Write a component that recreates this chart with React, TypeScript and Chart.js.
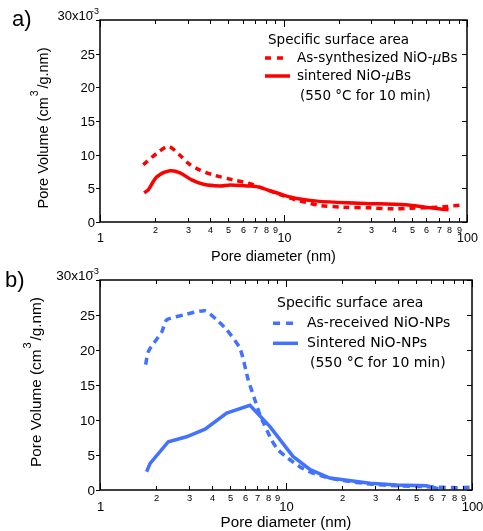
import React, { useEffect, useRef } from "react";
import { Chart, registerables } from "chart.js";
Chart.register(...registerables);

// ---------------- data ----------------
const Y_TICKS = [0, 5, 10, 15, 20, 25, 30]; // x10^-3
const X_MAJOR = [1, 10, 100];
const X_MINOR = [2, 3, 4, 5, 6, 7, 8, 9, 20, 30, 40, 50, 60, 70, 80, 90];

// Panel a) NiO-μBs
const A_DASH_X = [1.72, 2.04, 2.36, 2.73, 3.03, 3.51, 4.14, 5.33, 6.44, 7.3, 8.64, 10, 11.6, 13.4, 15.85, 21.2, 29.7, 39.8, 49.1, 58, 68.7, 77.9, 92];
const A_DASH_Y = [8.5, 10.2, 11.2, 9.9, 8.7, 7.7, 7.0, 6.25, 5.75, 5.25, 4.5, 3.9, 3.3, 2.9, 2.45, 2.2, 2.1, 1.95, 2.05, 2.1, 2.2, 2.3, 2.5];
const A_SOLID_X = [1.74, 1.83, 2.04, 2.41, 2.73, 3.16, 3.66, 4.52, 5.12, 6.3, 7.16, 8.46, 10, 11.8, 15.2, 22.1, 33.7, 49, 63, 79.4];
const A_SOLID_Y = [4.35, 4.75, 6.7, 7.6, 7.3, 6.25, 5.6, 5.35, 5.5, 5.35, 5.25, 4.65, 4.0, 3.5, 3.1, 2.85, 2.7, 2.5, 2.1, 1.8];

// Panel b) NiO-NPs
const B_DASH_X = [1.76, 1.82, 2.15, 2.28, 2.8, 3.67, 4.24, 4.8, 5.66, 6.27, 6.8, 7.25, 8.38, 9.1, 10.3, 11.9, 13.7, 16.6, 20.3, 28.3, 39.4, 54.7, 70.1, 82.7, 97];
const B_DASH_Y = [17.9, 19.8, 22.6, 24.3, 25.0, 25.6, 24.3, 22.9, 20.2, 15.7, 12.9, 10.7, 7.1, 5.7, 4.5, 3.3, 2.5, 1.8, 1.35, 0.85, 0.6, 0.48, 0.38, 0.33, 0.38];
const B_SOLID_X = [1.78, 1.86, 2.33, 2.92, 3.67, 4.8, 6.4, 8.2, 10.9, 13.5, 17.2, 28.3, 39.4, 57, 66];
const B_SOLID_Y = [2.6, 3.8, 6.9, 7.6, 8.7, 11.0, 12.1, 9.05, 4.8, 2.9, 1.7, 0.95, 0.7, 0.6, 0.2];

const A_LEGEND = ["Specific surface area", "As-synthesized NiO-", "sintered NiO-", "(550 °C for 10 min)"];
const B_LEGEND = ["Specific surface area", "As-received NiO-NPs", "Sintered NiO-NPs", "(550 °C for 10 min)"];

const RED = "#ff0000";
const BLUE = "#4272ff";

// ---------------- helpers ----------------
function pts(xs: number[], ys: number[]) {
  return xs.map((x, i) => ({ x, y: ys[i] }));
}

const SANS = '"Liberation Sans", Arial, Helvetica, sans-serif';
const LEG = '"DejaVu Sans", "Liberation Sans", sans-serif';

type Seg = { t: string; italic?: boolean };
type Item = { dash: number[]; x0: number; x1: number; y: number; tx: number; segs: Seg[] };
type Panel = {
  w: number; h: number; top: number;
  pad: { left: number; top: number; right: number; bottom: number };
  tag: string; tagX: number; tagY: number;
  k: number;
  xTitleX: number; xTitleY: number;
  yTitleX: number; yTitleY: number;
  yTitleSize: number; xTitleSize: number; legSize: number;
  legTitle: string; legTitleX: number; legTitleY: number;
  items: Item[];
  note: string; noteX: number; noteY: number;
  color: string;
  datasets: any[];
};

function line(ctx: CanvasRenderingContext2D, x0: number, y0: number, x1: number, y1: number) {
  ctx.beginPath();
  ctx.moveTo(x0, y0);
  ctx.lineTo(x1, y1);
  ctx.stroke();
}

function drawSegs(ctx: CanvasRenderingContext2D, segs: Seg[], x: number, y: number, size: number) {
  let cx = x;
  for (const s of segs) {
    ctx.font = `${s.italic ? "italic " : ""}${size}px ${LEG}`;
    ctx.fillText(s.t, cx, y);
    cx += ctx.measureText(s.t).width;
  }
}

function makePlugin(p: Panel) {
  return {
    id: "frame",
    afterDraw(chart: any) {
      const ctx: CanvasRenderingContext2D = chart.ctx;
      const { left, right, top, bottom } = chart.chartArea;
      const xs = chart.scales.x;
      const ys = chart.scales.y;
      ctx.save();
      ctx.strokeStyle = "#000";
      ctx.fillStyle = "#000";
      ctx.setLineDash([]);
      ctx.lineWidth = 1.5;
      ctx.strokeRect(left, top, right - left, bottom - top);
      ctx.lineWidth = 1;

      // y ticks
      ctx.textBaseline = "middle";
      ctx.textAlign = "right";
      for (const v of Y_TICKS) {
        const py = Math.round(ys.getPixelForValue(v)) + 0.5;
        line(ctx, left - 4, py, left, py);
        line(ctx, right - 5, py, right, py);
        if (v === 30) {
          ctx.font = `${9 * p.k}px ${SANS}`;
          ctx.fillText("-3", left - 1, py - 9);
          ctx.font = `${13 * p.k}px ${SANS}`;
          ctx.fillText("30x10", left - 7, py - 4);
        } else {
          ctx.font = `${13 * p.k}px ${SANS}`;
          ctx.fillText(String(v), left - 5, py + 1);
        }
      }

      // x ticks
      ctx.textAlign = "center";
      for (const v of X_MAJOR) {
        const px = Math.round(xs.getPixelForValue(v)) + 0.5;
        line(ctx, px, top, px, top + 7);
        line(ctx, px, bottom - 7, px, bottom);
        ctx.font = `${12.5 * p.k}px ${SANS}`;
        ctx.fillText(String(v), px, bottom + 17);
      }
      for (const v of X_MINOR) {
        const px = Math.round(xs.getPixelForValue(v)) + 0.5;
        line(ctx, px, top, px, top + 4);
        line(ctx, px, bottom - 4, px, bottom);
        const d = v >= 10 ? v / 10 : v;
        ctx.font = `${9 * p.k}px ${SANS}`;
        ctx.fillText(String(d), px, bottom + 8.5);
      }

      // x title
      ctx.font = `${p.xTitleSize}px ${SANS}`;
      ctx.fillText("Pore diameter (nm)", p.xTitleX, p.xTitleY);

      // y title (rotated)
      ctx.save();
      ctx.translate(p.yTitleX, p.yTitleY);
      ctx.rotate(-Math.PI / 2);
      ctx.textAlign = "left";
      ctx.font = `${p.yTitleSize}px ${SANS}`;
      const s1 = "Pore Volume (cm";
      const s2 = "/g.nm)";
      const w1 = ctx.measureText(s1).width;
      const w2 = ctx.measureText(s2).width;
      const ws = p.yTitleSize * 0.6;
      const total = w1 + ws + w2;
      const x0 = -total / 2;
      ctx.fillText(s1, x0, 0);
      ctx.fillText(s2, x0 + w1 + ws, 0);
      ctx.font = `${p.yTitleSize * 0.72}px ${SANS}`;
      ctx.fillText("3", x0 + w1 + 1, -p.yTitleSize * 0.62);
      ctx.restore();

      // panel tag
      ctx.textAlign = "left";
      ctx.font = `22px ${SANS}`;
      ctx.fillText(p.tag, p.tagX, p.tagY);

      // legend
      ctx.font = `${p.legSize}px ${LEG}`;
      ctx.fillText(p.legTitle, p.legTitleX, p.legTitleY);
      for (const it of p.items) {
        ctx.save();
        ctx.strokeStyle = p.color;
        ctx.lineWidth = 3.5;
        ctx.setLineDash(it.dash);
        line(ctx, it.x0, it.y, it.x1, it.y);
        ctx.restore();
        drawSegs(ctx, it.segs, it.tx, it.y, p.legSize);
      }
      ctx.font = `${p.legSize}px ${LEG}`;
      ctx.fillText(p.note, p.noteX, p.noteY);
      ctx.restore();
    },
  };
}

const PANEL_A: Panel = {
  w: 483, h: 265, top: 0,
  pad: { left: 100, top: 20, right: 16, bottom: 43 },
  tag: "a)", tagX: 12, tagY: 20, k: 1,
  xTitleX: 273.5, xTitleY: 256.5,
  yTitleX: 44, yTitleY: 128,
  yTitleSize: 14.5, xTitleSize: 14.5, legSize: 13.5,
  legTitle: A_LEGEND[0], legTitleX: 268, legTitleY: 40,
  items: [
    { dash: [6, 6], x0: 265, x1: 289, y: 58, tx: 297, segs: [{ t: A_LEGEND[1] }, { t: "μ", italic: true }, { t: "Bs" }] },
    { dash: [], x0: 265, x1: 290, y: 76, tx: 297, segs: [{ t: A_LEGEND[2] }, { t: "μ", italic: true }, { t: "Bs" }] },
  ],
  note: A_LEGEND[3], noteX: 300, noteY: 96,
  color: RED,
  datasets: [
    { label: "As-synthesized NiO-μBs", data: pts(A_DASH_X, A_DASH_Y), borderColor: RED, borderWidth: 3.5, borderDash: [6, 5], pointRadius: 0, tension: 0.3, fill: false },
    { label: "sintered NiO-μBs", data: pts(A_SOLID_X, A_SOLID_Y), borderColor: RED, borderWidth: 3.5, pointRadius: 0, tension: 0.3, fill: false },
  ],
};

const PANEL_B: Panel = {
  w: 483, h: 266, top: 265,
  pad: { left: 100, top: 15, right: 11, bottom: 41 },
  tag: "b)", tagX: 5, tagY: 16, k: 1.04,
  xTitleX: 286, xTitleY: 258,
  yTitleX: 37, yTitleY: 117,
  yTitleSize: 15.3, xTitleSize: 15.2, legSize: 14,
  legTitle: B_LEGEND[0], legTitleX: 277, legTitleY: 38,
  items: [
    { dash: [7, 6], x0: 273, x1: 294, y: 58.3, tx: 307, segs: [{ t: B_LEGEND[1] }] },
    { dash: [], x0: 273, x1: 298, y: 78.3, tx: 307, segs: [{ t: B_LEGEND[2] }] },
  ],
  note: B_LEGEND[3], noteX: 310, noteY: 98.3,
  color: BLUE,
  datasets: [
    { label: "As-received NiO-NPs", data: pts(B_DASH_X, B_DASH_Y), borderColor: BLUE, borderWidth: 3.5, borderDash: [7, 5], pointRadius: 0, tension: 0.2, fill: false },
    { label: "Sintered NiO-NPs", data: pts(B_SOLID_X, B_SOLID_Y), borderColor: BLUE, borderWidth: 3.5, pointRadius: 0, tension: 0, fill: false },
  ],
};

function PanelChart({ p }: { p: Panel }) {
  const ref = useRef<HTMLCanvasElement | null>(null);
  useEffect(() => {
    if (!ref.current) return;
    const chart = new Chart(ref.current, {
      type: "line",
      data: { datasets: p.datasets },
      options: {
        responsive: false,
        animation: false,
        devicePixelRatio: 1,
        layout: { padding: p.pad },
        plugins: { legend: { display: false }, tooltip: { enabled: false } },
        scales: {
          x: { type: "logarithmic", min: 1, max: 100, display: false },
          y: { type: "linear", min: 0, max: 30, display: false },
        },
      },
      plugins: [makePlugin(p)],
    } as any);
    return () => chart.destroy();
  }, [p]);
  return (
    <canvas
      ref={ref}
      width={p.w}
      height={p.h}
      style={{ position: "absolute", left: 0, top: p.top, width: p.w, height: p.h }}
    />
  );
}

export default function App() {
  return (
    <div style={{ position: "absolute", left: 0, top: 0, width: 483, height: 531, background: "#fff" }}>
      <PanelChart p={PANEL_A} />
      <PanelChart p={PANEL_B} />
    </div>
  );
}
